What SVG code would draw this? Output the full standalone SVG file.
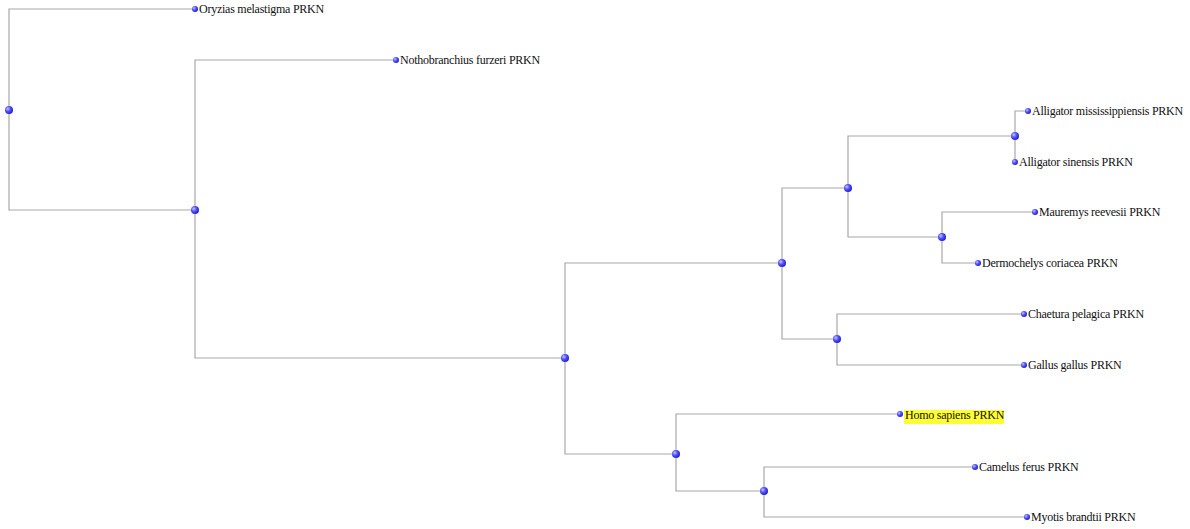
<svg xmlns="http://www.w3.org/2000/svg" width="1190" height="529" viewBox="0 0 1190 529">
<defs>
<radialGradient id="ball" cx="0.35" cy="0.35" r="0.7">
<stop offset="0" stop-color="#c8c8ff"/>
<stop offset="0.45" stop-color="#5555ff"/>
<stop offset="1" stop-color="#1a1acc"/>
</radialGradient>
<style>
.br{fill:none;stroke:#a8a8a8;stroke-width:1.2}
.lbl{font-family:"Liberation Serif","Times New Roman",serif;font-size:12px;letter-spacing:-0.25px;fill:#111}
.in{fill:url(#ball)}
.lf{fill:url(#ball)}
</style>
</defs>
<rect width="1190" height="529" fill="#ffffff"/>
<g id="connectors">
<path class="br" d="M195,9 H9 V210 H195"/>
<path class="br" d="M396,60 H195 V358 H565"/>
<path class="br" d="M782,263 H565 V454 H676"/>
<path class="br" d="M848,188 H782 V339 H837"/>
<path class="br" d="M1015,136 H848 V237 H942"/>
<path class="br" d="M1028,111 H1015 V162"/>
<path class="br" d="M1035,212 H942 V263 H978"/>
<path class="br" d="M1024,314 H837 V365 H1024"/>
<path class="br" d="M900,414 H676 V491 H764"/>
<path class="br" d="M975,467 H764 V517 H1027"/>
</g>
<g id="n_root"><circle class="in" cx="9" cy="110" r="4"/></g>
<g id="n_1"><circle class="in" cx="195" cy="210" r="4"/></g>
<g id="n_2"><circle class="in" cx="565" cy="358" r="4"/></g>
<g id="n_3"><circle class="in" cx="782" cy="263" r="4"/></g>
<g id="n_4"><circle class="in" cx="848" cy="188" r="4"/></g>
<g id="n_5"><circle class="in" cx="1015" cy="136" r="4"/></g>
<g id="n_6"><circle class="in" cx="942" cy="237" r="4"/></g>
<g id="n_7"><circle class="in" cx="837" cy="339" r="4"/></g>
<g id="n_8"><circle class="in" cx="676" cy="454" r="4"/></g>
<g id="n_9"><circle class="in" cx="764" cy="491" r="4"/></g>
<g id="leaf_oryzias"><circle class="lf" cx="195" cy="9" r="3"/><text class="lbl" x="199" y="13">Oryzias melastigma PRKN</text></g>
<g id="leaf_nothobranchius"><circle class="lf" cx="396" cy="60" r="3"/><text class="lbl" x="400" y="64">Nothobranchius furzeri PRKN</text></g>
<g id="leaf_alligator_m"><circle class="lf" cx="1028" cy="111" r="3"/><text class="lbl" x="1032" y="115">Alligator mississippiensis PRKN</text></g>
<g id="leaf_alligator_s"><circle class="lf" cx="1015" cy="162" r="3"/><text class="lbl" x="1019" y="166">Alligator sinensis PRKN</text></g>
<g id="leaf_mauremys"><circle class="lf" cx="1035" cy="212" r="3"/><text class="lbl" x="1039" y="216">Mauremys reevesii PRKN</text></g>
<g id="leaf_dermochelys"><circle class="lf" cx="978" cy="263" r="3"/><text class="lbl" x="982" y="267">Dermochelys coriacea PRKN</text></g>
<g id="leaf_chaetura"><circle class="lf" cx="1024" cy="314" r="3"/><text class="lbl" x="1028" y="318">Chaetura pelagica PRKN</text></g>
<g id="leaf_gallus"><circle class="lf" cx="1024" cy="365" r="3"/><text class="lbl" x="1028" y="369">Gallus gallus PRKN</text></g>
<g id="leaf_homo"><rect x="904" y="410" width="100" height="14" fill="#ffff33"/><circle class="lf" cx="900" cy="414" r="3"/><text class="lbl" x="905" y="419">Homo sapiens PRKN</text></g>
<g id="leaf_camelus"><circle class="lf" cx="975" cy="467" r="3"/><text class="lbl" x="979" y="471">Camelus ferus PRKN</text></g>
<g id="leaf_myotis"><circle class="lf" cx="1027" cy="517" r="3"/><text class="lbl" x="1031" y="521">Myotis brandtii PRKN</text></g>
</svg>
